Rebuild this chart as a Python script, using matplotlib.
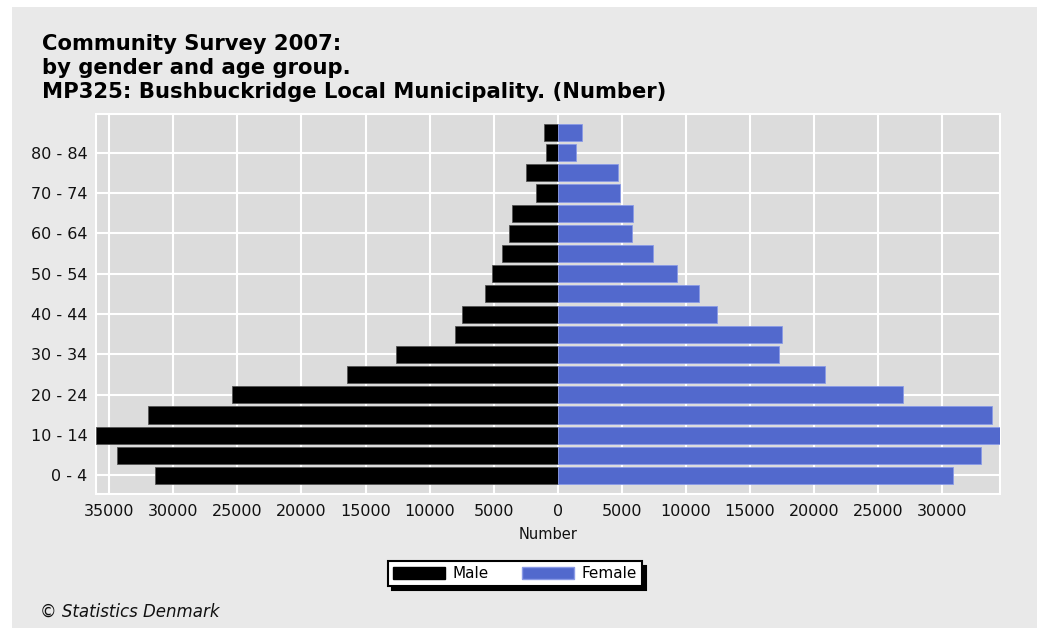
import matplotlib
matplotlib.use("Agg")
import matplotlib.pyplot as plt
from matplotlib.patches import Rectangle, Patch
from matplotlib.ticker import FixedLocator, FuncFormatter
import numpy as np

# ---- data ----
age_groups = ["0 - 4", "5 - 9", "10 - 14", "15 - 19", "20 - 24", "25 - 29",
              "30 - 34", "35 - 39", "40 - 44", "45 - 49", "50 - 54", "55 - 59",
              "60 - 64", "65 - 69", "70 - 74", "75 - 79", "80 - 84", "85+"]
male = [31400, 34400, 36030, 31970, 25420, 16440, 12650, 8020, 7480, 5710,
        5140, 4330, 3790, 3550, 1740, 2460, 930, 1080]
female = [30850, 33010, 34500, 33840, 26960, 20880, 17250, 17520, 12400, 11010,
          9280, 7390, 5810, 5890, 4850, 4720, 1440, 1870]
x_ticks = [-35000, -30000, -25000, -20000, -15000, -10000, -5000, 0,
           5000, 10000, 15000, 20000, 25000, 30000]
title_lines = ["Community Survey 2007:",
               "by gender and age group.",
               "MP325: Bushbuckridge Local Municipality. (Number)"]
series_names = ["Male", "Female"]

MALE_C = "#000000"
FEMALE_C = "#5269CD"
PANEL = "#e9e9e9"
PLOT_BG = "#dcdcdc"

W, H = 1037, 628
fig = plt.figure(figsize=(W / 100, H / 100), dpi=100)
fig.patch.set_facecolor("white")
fig.patches.append(Rectangle((12 / W, 0), 1 - 12 / W, (H - 7) / H,
                             transform=fig.transFigure, facecolor=PANEL,
                             edgecolor="none", zorder=-10))

ax = fig.add_axes([96 / W, (H - 494) / H, (1000 - 96) / W, (494 - 114) / H])
ax.set_zorder(1)
ax.set_facecolor(PLOT_BG)
y = np.arange(len(age_groups))
ax.barh(y, [-m for m in male], height=0.85, color=MALE_C,
        edgecolor="#555555", linewidth=0.6, zorder=3)
ax.barh(y, female, height=0.85, color=FEMALE_C,
        edgecolor="#8a9ae6", linewidth=0.6, zorder=3)

ax.set_xlim(-max(male), max(female))
ax.set_ylim(-0.92, len(age_groups) - 1 + 0.92)
ax.xaxis.set_major_locator(FixedLocator(x_ticks))
ax.xaxis.set_major_formatter(FuncFormatter(lambda v, p: f"{abs(int(round(v)))}"))
ax.set_yticks(y[::2])
ax.set_yticklabels(age_groups[::2])
ax.set_axisbelow(True)
ax.grid(True, color="white", linewidth=1.5)
ax.tick_params(length=0, labelsize=11.5, pad=6, colors="#111111")
ax.tick_params(axis="x", pad=7)
for s in ax.spines.values():
    s.set_color("white")
    s.set_linewidth(1.5)
ax.set_xlabel("Number", fontsize=10.5, labelpad=6, color="#111111")

ty = [H - 44, H - 68, H - 92]
for line, yy in zip(title_lines, ty):
    fig.text(42 / W, yy / H, line, fontsize=15.2, fontweight="bold",
             ha="left", va="center", color="black")

handles = [Patch(facecolor=MALE_C, edgecolor=MALE_C),
           Patch(facecolor=FEMALE_C, edgecolor="#8a9ae6")]
leg = fig.legend(handles, series_names, loc="center",
                 bbox_to_anchor=(515 / W, (H - 573.5) / H),
                 ncol=2, fontsize=11, frameon=True, fancybox=False,
                 shadow={"color": "black", "alpha": 1, "ox": 3, "oy": -3},
                 handlelength=3.4, handleheight=0.8, handletextpad=0.5,
                 columnspacing=2.2, borderpad=0.3, borderaxespad=0)
leg.get_frame().set_edgecolor("black")
leg.get_frame().set_linewidth(1.5)
leg.get_frame().set_facecolor("white")

fig.text(40 / W, (H - 612) / H, "\u00a9 Statistics Denmark", fontsize=12,
         style="italic", ha="left", va="center", color="#111111")

fig.savefig("out.png", dpi=100, facecolor=fig.get_facecolor())
